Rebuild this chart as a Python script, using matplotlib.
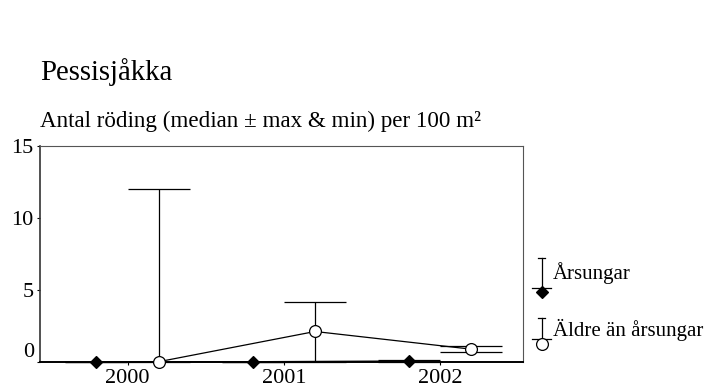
import numpy as np
import matplotlib.pyplot as plt
from matplotlib.transforms import ScaledTranslation

# ==========================================================
# DATA
# ==========================================================

years = ["2000", "2001", "2002"]

# Årsungar (young of the year)
arsungar_median = [0.0, 0.0, 0.05]
arsungar_max = [0.0, 0.0, 0.12]
arsungar_min = [0.0, 0.0, 0.0]

# Äldre än årsungar (older)
aldre_median = [0.0, 2.1, 0.87]
aldre_max = [12.0, 4.15, 1.09]
aldre_min = [0.0, 0.0, 0.68]

plt.rcParams["font.family"] = ["Liberation Serif", "DejaVu Serif"]

# ==========================================================
# FIGURE
# ==========================================================

fig = plt.figure(figsize=(7.07, 3.88), dpi=100)
ax = fig.add_axes([0.0566, 0.0678, 0.683, 0.556])

x = np.arange(len(years))
off = 0.2
cap = 22.5

def serie(xpos, med, mx, mn, marker, face, ms):
    med = np.array(med)
    err = [med - np.array(mn), np.array(mx) - med]
    ax.errorbar(xpos, med, yerr=err, fmt="none", ecolor="black",
                elinewidth=0.9, capsize=cap, capthick=0.9, clip_on=False, zorder=3)
    ax.plot(xpos, med, color="black", lw=0.9, marker=marker, ms=ms,
            mfc=face, mec="black", mew=0.9, clip_on=False, zorder=4)

serie(x - off, arsungar_median, arsungar_max, arsungar_min, "D", "black", 6.5)
serie(x + off, aldre_median, aldre_max, aldre_min, "o", "white", 8.5)

ax.set_xlim(-0.56, 2.53)
ax.set_ylim(0, 15)
ax.set_xticks(x)
ax.set_xticklabels(years)
ax.set_yticks([0, 5, 10, 15])
ax.tick_params(axis="both", labelsize=16, length=2.5, width=0.8, direction="out")
ax.tick_params(axis="x", pad=3)
ax.tick_params(axis="y", pad=2)

# raise the "0" label a bit, like in the original
lab0 = ax.get_yticklabels()[0]
lab0.set_transform(lab0.get_transform() + ScaledTranslation(0, 12 / 100, fig.dpi_scale_trans))

for s in ["top", "right"]:
    ax.spines[s].set_color("#555555")
    ax.spines[s].set_linewidth(0.8)
ax.spines["left"].set_color("#333333")
ax.spines["left"].set_linewidth(1.2)
ax.spines["bottom"].set_color("black")
ax.spines["bottom"].set_linewidth(1.4)

# ==========================================================
# LEGEND (drawn by hand at the right)
# ==========================================================

lx = 2.651
for top, low, mid, marker, face, ms, label, ty in [
    (7.23, 5.1, 4.87, "D", "black", 6.0, "Årsungar", 6.15),
    (3.06, 1.56, 1.23, "o", "white", 8.5, "Äldre än årsungar", 2.2),
]:
    ax.plot([lx, lx], [low, top], color="black", lw=0.9, clip_on=False)
    ax.plot([lx - 0.022, lx + 0.022], [top, top], color="black", lw=0.9, clip_on=False)
    ax.plot([lx - 0.06, lx + 0.06], [low, low], color="black", lw=0.9, clip_on=False)
    ax.plot([lx], [mid], marker=marker, ms=ms, mfc=face, mec="black", mew=0.9,
            clip_on=False)
    ax.text(lx + 0.07, ty, label, fontsize=15, va="center", ha="left")

# ==========================================================
# TITLES
# ==========================================================

fig.text(40 / 707, 1 - 80 / 388, "Pessisjåkka", fontsize=20.7, ha="left", va="baseline")
fig.text(40 / 707, 1 - 126.5 / 388, "Antal röding (median ± max & min) per 100 m²",
         fontsize=16.6, ha="left", va="baseline")

fig.savefig("out.png", dpi=100)
